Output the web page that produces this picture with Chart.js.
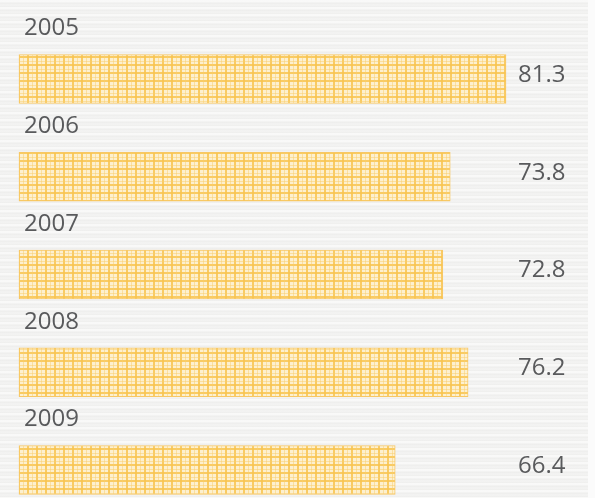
<!DOCTYPE html>
<html>
<head>
<meta charset="utf-8">
<script src="https://cdn.jsdelivr.net/npm/chart.js@4/dist/chart.umd.min.js"></script>
<style>
  html, body { margin: 0; padding: 0; width: 595px; height: 498px; overflow: hidden; }
  body {
    background-color: #f1f1f0;
    background-image:
      linear-gradient(to right, rgba(255,255,255,0) 0px, rgba(255,255,255,0) 588px, #fbfbfb 588px),
      repeating-linear-gradient(to bottom, rgba(255,255,255,0.55) 0px, rgba(255,255,255,0.55) 2px, rgba(230,230,228,0.35) 3px, rgba(255,255,255,0.2) 5px, rgba(236,236,234,0.5) 7px);
  }
  #wrap { position: absolute; left: 0; top: 0; width: 595px; height: 498px; }
</style>
</head>
<body>
<div id="wrap"><canvas id="c" width="595" height="498"></canvas></div>
<script>
const years = ['2005', '2006', '2007', '2008', '2009'];
const values = [81.3, 73.8, 72.8, 76.2, 66.4];
const valueLabels = ['81.3', '73.8', '72.8', '76.2', '66.4'];

function makePattern() {
  const p = document.createElement('canvas');
  p.width = 9; p.height = 8;
  const g = p.getContext('2d');
  g.fillStyle = '#fdf0cf';
  g.fillRect(0, 0, 9, 8);
  g.fillStyle = 'rgba(248,196,80,0.85)';
  g.fillRect(0, 0, 2, 8);
  g.fillRect(0, 0, 9, 2);
  g.fillStyle = 'rgba(249,206,110,0.5)';
  g.fillRect(5, 0, 1, 8);
  g.fillRect(0, 5, 9, 1);
  return document.getElementById('c').getContext('2d').createPattern(p, 'repeat');
}

const textColor = '#595a5c';
const fontSpec = '24px "Open Sans"';

const labelPlugin = {
  id: 'labels',
  afterDatasetsDraw(chart) {
    const ctx = chart.ctx;
    const meta = chart.getDatasetMeta(0);
    ctx.save();
    ctx.font = fontSpec;
    ctx.fillStyle = textColor;
    meta.data.forEach((bar, i) => {
      const half = bar.height / 2;
      ctx.textAlign = 'left';
      ctx.textBaseline = 'middle';
      ctx.fillText(years[i], 24, bar.y - half - 26);
      ctx.fillText(valueLabels[i], 518, bar.y - 4);
    });
    ctx.restore();
  }
};

new Chart(document.getElementById('c'), {
  type: 'bar',
  data: {
    labels: years,
    datasets: [{
      data: values,
      backgroundColor: makePattern(),
      borderColor: 'rgba(248,192,76,0.85)',
      borderWidth: 1,
      borderSkipped: false,
      barThickness: 49,
      base: 15.8,
      clip: false
    }]
  },
  options: {
    indexAxis: 'y',
    responsive: false,
    animation: false,
    layout: { padding: { top: 79, bottom: 28, left: 19, right: 89 } },
    plugins: { legend: { display: false }, tooltip: { enabled: false } },
    scales: {
      x: { type: 'linear', min: 15.8, max: 81.3, display: false },
      y: { type: 'category', offset: false, display: false }
    }
  },
  plugins: [labelPlugin]
});
</script>
</body>
</html>
